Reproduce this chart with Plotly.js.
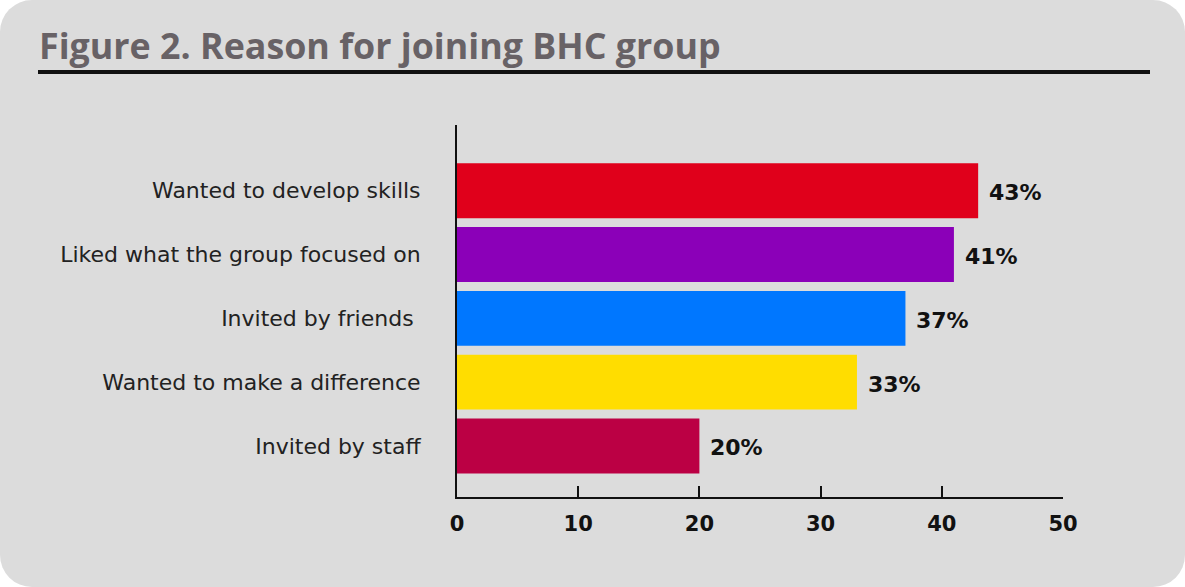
<!DOCTYPE html>
<html>
<head>
<meta charset="utf-8">
<script src="https://cdn.plot.ly/plotly-3.0.1.min.js"></script>
<style>
  html, body { margin: 0; padding: 0; background: #ffffff; }
  #chart { width: 1185px; height: 587px; background: #dcdcdc; border-radius: 32px; overflow: hidden; }
</style>
</head>
<body>
<div id="chart"></div>
<script>
const categories = [
  "Wanted to develop skills",
  "Liked what the group focused on",
  "Invited by friends ",
  "Wanted to make a difference",
  "Invited by staff"
];
const values = [43, 41, 37, 33, 20];
const valueLabels = ["43%", "41%", "37%", "33%", "20%"];
const barColors = ["#e0001b", "#8b00b8", "#0077ff", "#ffdd00", "#bb0044"];
const tickValues = [0, 10, 20, 30, 40, 50];
const tickLabels = ["0", "10", "20", "30", "40", "50"];

const trace = {
  type: "bar",
  orientation: "h",
  x: values,
  y: categories,
  marker: { color: barColors, line: { width: 0 } },
  hoverinfo: "skip"
};

const annotations = values.map((v, i) => ({
  x: v, y: categories[i], xref: "x", yref: "y",
  text: valueLabels[i], showarrow: false,
  xanchor: "left", yanchor: "middle", xshift: 9, yshift: -2,
  font: { family: "DejaVu Sans", size: 22, color: "#111111", weight: "bold" }
}));

const layout = {
  width: 1185, height: 587,
  paper_bgcolor: "rgba(0,0,0,0)",
  plot_bgcolor: "rgba(0,0,0,0)",
  margin: { l: 457, r: 122, t: 125, b: 90 },
  showlegend: false,
  bargap: 0.14,
  title: {
    text: "<b>Figure 2. Reason for joining BHC group</b>",
    x: 39 / 1185, xanchor: "left", xref: "container",
    y: 1 - 46 / 587, yanchor: "middle", yref: "container",
    font: { family: "Open Sans", size: 35.8, color: "#686266" }
  },
  xaxis: {
    range: [0, 50],
    tickvals: tickValues,
    ticktext: tickLabels,
    ticks: "inside", ticklen: 11, tickwidth: 2, tickcolor: "#111111",
    showline: true, linecolor: "#111111", linewidth: 2,
    showgrid: false, zeroline: false,
    ticklabelstandoff: 7,
    tickfont: { family: "DejaVu Sans", size: 21, color: "#111111", weight: "bold" },
    fixedrange: true
  },
  yaxis: {
    type: "category",
    categoryorder: "array",
    categoryarray: categories,
    range: [4.8, -1.03],
    showline: true, linecolor: "#111111", linewidth: 2,
    ticks: "", showgrid: false, zeroline: false,
    ticklabelstandoff: 30,
    tickfont: { family: "DejaVu Sans", size: 22, color: "#222222" },
    fixedrange: true
  },
  shapes: [{
    type: "line", xref: "paper", yref: "paper",
    x0: (38 - 457) / 606, x1: (1150 - 457) / 606,
    y0: (497 - 72) / 372, y1: (497 - 72) / 372,
    line: { color: "#111111", width: 4 }
  }],
  annotations: annotations
};

Plotly.newPlot("chart", [trace], layout, { displayModeBar: false, staticPlot: true });
</script>
</body>
</html>
